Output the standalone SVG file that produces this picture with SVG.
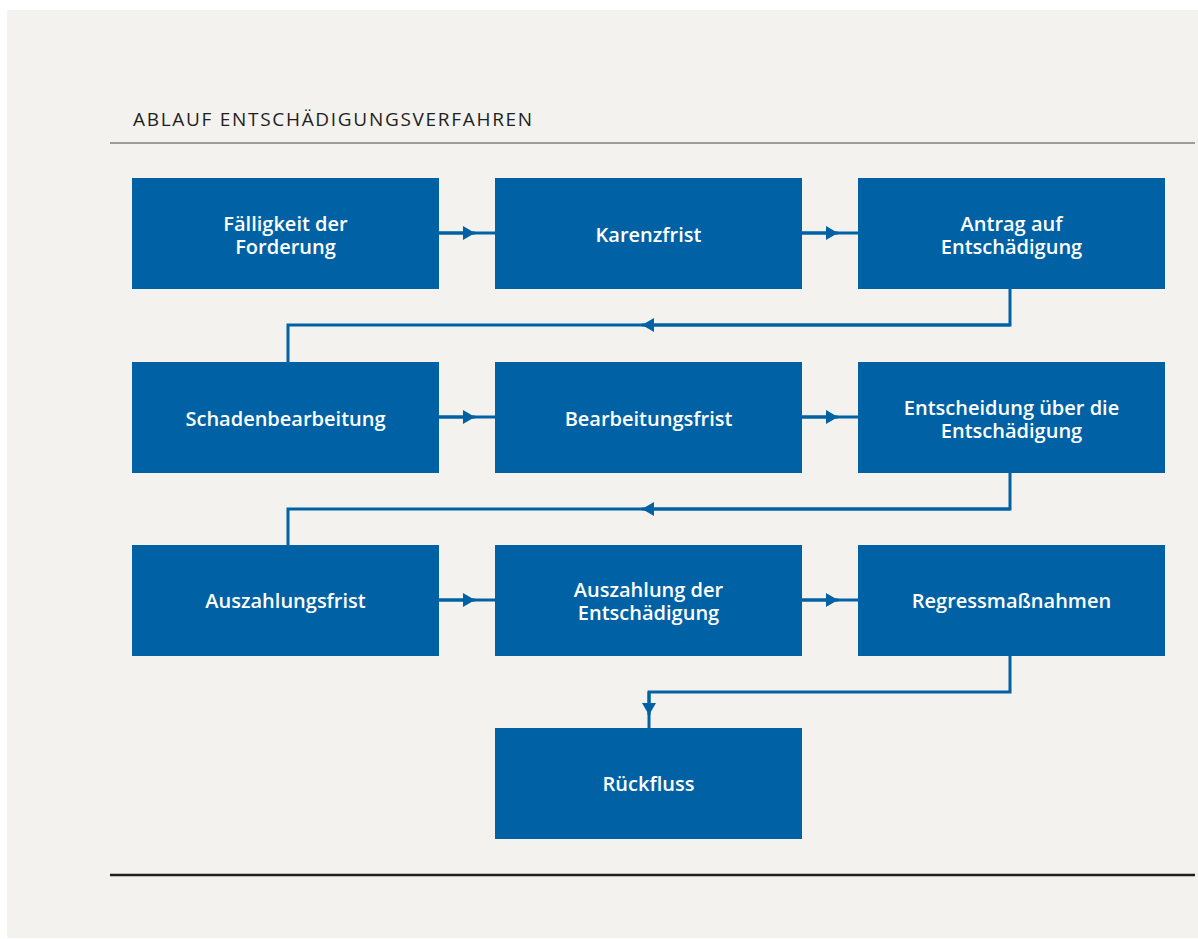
<svg xmlns="http://www.w3.org/2000/svg" width="1198" height="939" viewBox="0 0 1198 939">
<defs>
<style>
.box{fill:#0062a4}
.lbl{font-family:"Open Sans","Liberation Sans",sans-serif;font-weight:600;font-size:20px;fill:#ffffff;text-anchor:middle}
.con{fill:none;stroke:#0062a4;stroke-width:3}
.title{font-family:"Open Sans","Liberation Sans",sans-serif;font-size:19px;fill:#1e1e1e;letter-spacing:1.7px}
</style>
<marker id="ah" viewBox="0 0 12 14" refX="12" refY="7" markerWidth="12" markerHeight="14" markerUnits="userSpaceOnUse" orient="auto">
<path d="M0,0 L12,7 L0,14 Z" fill="#0062a4"/>
</marker>
</defs>
<rect x="0" y="0" width="1198" height="939" fill="#ffffff"/>
<rect x="7" y="10" width="1191" height="928" fill="#f3f2ee"/>
<text class="title" x="133" y="126">ABLAUF ENTSCHÄDIGUNGSVERFAHREN</text>
<line x1="110" y1="143" x2="1195" y2="143" stroke="#7f7f7c" stroke-width="1.6"/>
<line x1="110" y1="875" x2="1195" y2="875" stroke="#1e1e1e" stroke-width="2.6"/>
<g id="connectors">
<path class="con" d="M439,233 H495"/><path class="con" d="M439,233 H475" marker-end="url(#ah)"/>
<path class="con" d="M802,233 H858"/><path class="con" d="M802,233 H838" marker-end="url(#ah)"/>
<path class="con" d="M439,417 H495"/><path class="con" d="M439,417 H475" marker-end="url(#ah)"/>
<path class="con" d="M802,417 H858"/><path class="con" d="M802,417 H838" marker-end="url(#ah)"/>
<path class="con" d="M439,600 H495"/><path class="con" d="M439,600 H475" marker-end="url(#ah)"/>
<path class="con" d="M802,600 H858"/><path class="con" d="M802,600 H838" marker-end="url(#ah)"/>
<path class="con" d="M1010,289 V325 H288 V362"/><path class="con" d="M1010,325 H642" marker-end="url(#ah)"/>
<path class="con" d="M1010,473 V509 H288 V545"/><path class="con" d="M1010,509 H642" marker-end="url(#ah)"/>
<path class="con" d="M1010,656 V692 H649 V728"/><path class="con" d="M649,692 V715" marker-end="url(#ah)"/>
</g>
<g id="n1"><rect class="box" x="132" y="178" width="307" height="111"/><text class="lbl" x="285.5" y="231">Fälligkeit der<tspan x="285.5" dy="23">Forderung</tspan></text></g>
<g id="n2"><rect class="box" x="495" y="178" width="307" height="111"/><text class="lbl" x="648.5" y="242">Karenzfrist</text></g>
<g id="n3"><rect class="box" x="858" y="178" width="307" height="111"/><text class="lbl" x="1011.5" y="231">Antrag auf<tspan x="1011.5" dy="23">Entschädigung</tspan></text></g>
<g id="n4"><rect class="box" x="132" y="362" width="307" height="111"/><text class="lbl" x="285.5" y="426">Schadenbearbeitung</text></g>
<g id="n5"><rect class="box" x="495" y="362" width="307" height="111"/><text class="lbl" x="648.5" y="426">Bearbeitungsfrist</text></g>
<g id="n6"><rect class="box" x="858" y="362" width="307" height="111"/><text class="lbl" x="1011.5" y="415">Entscheidung über die<tspan x="1011.5" dy="23">Entschädigung</tspan></text></g>
<g id="n7"><rect class="box" x="132" y="545" width="307" height="111"/><text class="lbl" x="285.5" y="608">Auszahlungsfrist</text></g>
<g id="n8"><rect class="box" x="495" y="545" width="307" height="111"/><text class="lbl" x="648.5" y="597">Auszahlung der<tspan x="648.5" dy="23">Entschädigung</tspan></text></g>
<g id="n9"><rect class="box" x="858" y="545" width="307" height="111"/><text class="lbl" x="1011.5" y="608">Regressmaßnahmen</text></g>
<g id="n10"><rect class="box" x="495" y="728" width="307" height="111"/><text class="lbl" x="648.5" y="791">Rückfluss</text></g>
</svg>
